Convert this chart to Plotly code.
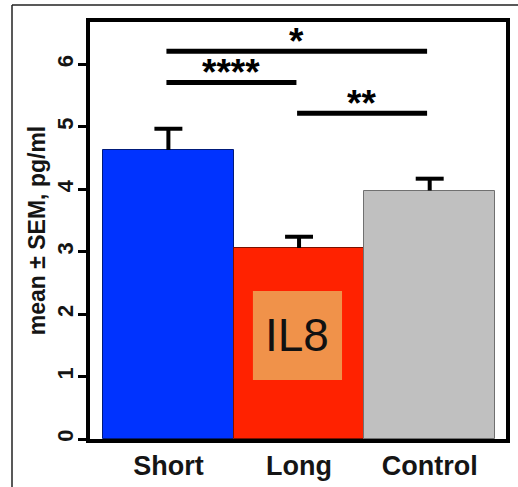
import plotly.graph_objects as go

# ---- data ----
categories = ["Short", "Long", "Control"]
means = [4.63, 3.06, 3.98]
sems = [0.34, 0.18, 0.19]
bar_colors = ["#0033FF", "#FF2200", "#C0C0C0"]
bar_edge = ["#001a7a", "#7a1000", "#707070"]
y_ticks = [0, 1, 2, 3, 4, 5, 6]
# comparisons: (from index, to index, label, bracket level)
comparisons = [(0, 2, "*", 6.21), (0, 1, "****", 5.71), (1, 2, "**", 5.22)]
inset_label = "IL8"

FONT = "Arial, Liberation Sans, sans-serif"
TXT = "#151515"
xs = list(range(len(categories)))
CAP = 0.107  # half cap width in category units

fig = go.Figure()
fig.add_trace(go.Bar(
    x=xs, y=means, width=1.0,
    marker=dict(color=bar_colors, line=dict(color=bar_edge, width=1)),
    showlegend=False, hoverinfo="skip",
))

# upper-only SEM error bars (stem + cap) built from the data
ex, ey = [], []
for i, (m, s) in enumerate(zip(means, sems)):
    ex += [i, i, None, i - CAP, i + CAP, None]
    ey += [m, m + s, None, m + s, m + s, None]
fig.add_trace(go.Scatter(x=ex, y=ey, mode="lines", line=dict(color="black", width=4),
                         showlegend=False, hoverinfo="skip"))

shapes = []
annotations = []
for a, b, lab, lev in comparisons:
    shapes.append(dict(type="line", xref="x", yref="y", x0=a - 0.015, x1=b - 0.02,
                       y0=lev, y1=lev, line=dict(color="black", width=5)))
    annotations.append(dict(x=(a + b) / 2 - 0.02, y=lev + 0.25, xref="x", yref="y",
                            text=lab, showarrow=False, yshift=-6,
                            font=dict(family=FONT, size=37, color="black", weight="bold")))

# inset label box
shapes.append(dict(type="rect", xref="x", yref="y", x0=0.647, x1=1.329, y0=0.945, y1=2.37,
                   fillcolor="#F0924A", line=dict(width=0), layer="above"))
annotations.append(dict(x=0.988, y=1.67, xref="x", yref="y", text=inset_label,
                        showarrow=False, font=dict(family=FONT, size=46, color="#111111")))

# outer frame (left and top edges of picture border)
shapes.append(dict(type="line", xref="paper", yref="paper", x0=-0.1875, x1=-0.1875,
                   y0=-0.2, y1=1.0408, line=dict(color="#222222", width=1.5)))
shapes.append(dict(type="line", xref="paper", yref="paper", x0=-0.1875, x1=1.1,
                   y0=1.0408, y1=1.0408, line=dict(color="#222222", width=1.5)))

fig.update_layout(
    width=518, height=487,
    margin=dict(l=90, r=12, t=22, b=48, autoexpand=False),
    paper_bgcolor="white", plot_bgcolor="white",
    bargap=0,
    shapes=shapes, annotations=annotations,
    xaxis=dict(range=[-0.6, 2.584], tickmode="array", tickvals=xs, ticktext=categories,
               automargin=False,
               showgrid=False, zeroline=False, showline=True, linecolor="black", linewidth=4,
               mirror=True, ticks="", tickfont=dict(family=FONT, size=27, color=TXT, weight="bold")),
    yaxis=dict(range=[0, 6.68], tickmode="array", tickvals=y_ticks, automargin=False,
               showgrid=False, zeroline=False, showline=True, linecolor="black", linewidth=4,
               mirror=True, ticks="outside", ticklen=8, tickwidth=3, tickcolor="black",
               tickangle=-90, ticklabelstandoff=-4,
               tickfont=dict(family=FONT, size=22, color=TXT, weight="bold"),
               title=dict(text="mean ± SEM, pg/ml", standoff=2,
                          font=dict(family=FONT, size=23, color=TXT, weight="bold"))),
)

fig.write_html("out.html", config={"displayModeBar": False},
               post_script="document.body.style.margin='0';document.body.style.overflow='hidden';")
